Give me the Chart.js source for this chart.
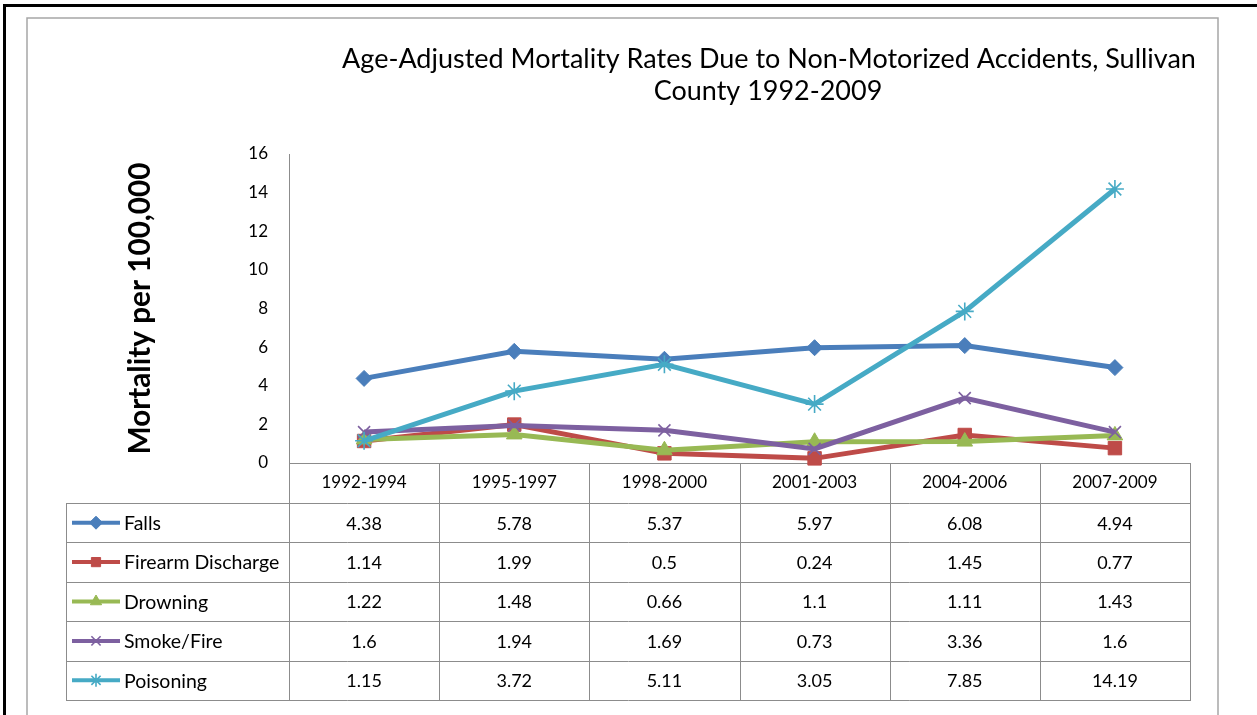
<!DOCTYPE html>
<html>
<head>
<meta charset="utf-8">
<script src="https://cdn.jsdelivr.net/npm/chart.js@4/dist/chart.umd.min.js"></script>
<style>
html,body{margin:0;padding:0;background:#fff;}
#wrap{position:relative;width:1257px;height:715px;}
canvas{display:block;}
</style>
</head>
<body>
<div id="wrap"><canvas id="c" width="1257" height="715"></canvas></div>
<script>
// ---- data ----
const categories = ['1992-1994','1995-1997','1998-2000','2001-2003','2004-2006','2007-2009'];
const seriesNames = ['Falls','Firearm Discharge','Drowning','Smoke/Fire','Poisoning'];
const falls     = [4.38, 5.78, 5.37, 5.97, 6.08, 4.94];
const firearm   = [1.14, 1.99, 0.5, 0.24, 1.45, 0.77];
const drowning  = [1.22, 1.48, 0.66, 1.1, 1.11, 1.43];
const smokeFire = [1.6, 1.94, 1.69, 0.73, 3.36, 1.6];
const poisoning = [1.15, 3.72, 5.11, 3.05, 7.85, 14.19];
const yTicks = [0, 2, 4, 6, 8, 10, 12, 14, 16];
const titleLines = ['Age-Adjusted Mortality Rates Due to Non-Motorized Accidents, Sullivan', 'County 1992-2009'];
const yTitle = 'Mortality per 100,000';

// ---- styles ----
const seriesValues = [falls, firearm, drowning, smokeFire, poisoning];
const colors = ['#4A7EBB', '#BE4B48', '#98B954', '#7D60A0', '#46AAC5'];
const markers = ['rectRot', 'rect', 'triangle', 'crossRot', 'star'];
const markerRadius = [8, 9.5, 9, 8.5, 9];
const markerBorder = [1, 1, 1, 1.6, 1.6];
const FONT = 'Lato, "Open Sans", "DejaVu Sans", sans-serif';
const GRID = '#8c8c8c';

function fitSize(text, target, weight) {
  const c = document.createElement('canvas').getContext('2d');
  c.font = weight + ' 100px ' + FONT;
  return 100 * target / c.measureText(text).width;
}
const titleSize = fitSize(titleLines[0], 854, 'normal');
const yTitleSize = fitSize(yTitle, 292, 'bold');
const yTitleCenterX = 141;
const padLeft = Math.round(yTitleCenterX - yTitleSize * 1.2 / 2);
const axisLeft = 289, axisRight = 1190, axisTop = 154, axisBottom = 463;
const headerH = 40, rowH = 39.4, tableLeft = 66;

const datasets = seriesNames.map((name, i) => ({
  label: name,
  data: seriesValues[i],
  borderColor: colors[i],
  backgroundColor: colors[i],
  borderWidth: 5,
  pointStyle: markers[i],
  pointRadius: markerRadius[i],
  pointBorderWidth: markerBorder[i],
  pointBackgroundColor: colors[i],
  pointBorderColor: colors[i],
  tension: 0,
  fill: false,
  clip: false,
  order: seriesNames.length - 1 - i
}));

const decor = {
  id: 'decor',
  beforeDraw(chart) {
    const ctx = chart.ctx;
    ctx.save();
    ctx.fillStyle = '#fff';
    ctx.fillRect(0, 0, chart.width, chart.height);
    // outer black frame
    ctx.fillStyle = '#000';
    ctx.fillRect(3, 4, 1254, 3);
    ctx.fillRect(3, 4, 3, 711);
    // inner gray frame
    ctx.strokeStyle = '#a6a6a6';
    ctx.lineWidth = 1.5;
    ctx.beginPath();
    ctx.moveTo(27, 715); ctx.lineTo(27, 18); ctx.lineTo(1218, 18); ctx.lineTo(1218, 715);
    ctx.stroke();
    ctx.restore();
  },
  afterDraw(chart) {
    const ctx = chart.ctx;
    const ca = chart.chartArea;
    const xs = chart.scales.x;
    ctx.save();
    // title
    ctx.fillStyle = '#000';
    ctx.textAlign = 'center';
    ctx.textBaseline = 'alphabetic';
    ctx.font = 'normal ' + titleSize.toFixed(2) + 'px ' + FONT;
    ctx.fillText(titleLines[0], 769, 68);
    ctx.fillText(titleLines[1], 768, 100);

    // data table
    const n = categories.length;
    const colW = (ca.right - ca.left) / n;
    const headBot = ca.bottom + headerH;
    const tableBot = headBot + rowH * seriesNames.length;
    ctx.strokeStyle = GRID;
    ctx.lineWidth = 1;
    ctx.beginPath();
    for (let i = 0; i <= n; i++) {
      const x = Math.round(ca.left + i * colW) + 0.5;
      ctx.moveTo(x, ca.bottom); ctx.lineTo(x, tableBot);
    }
    ctx.moveTo(tableLeft + 0.5, headBot); ctx.lineTo(tableLeft + 0.5, tableBot);
    for (let r = 0; r <= seriesNames.length; r++) {
      const y = Math.round(headBot + r * rowH) + 0.5;
      ctx.moveTo(tableLeft, y); ctx.lineTo(ca.right + 1, y);
    }
    ctx.stroke();

    ctx.textBaseline = 'middle';
    seriesNames.forEach((name, s) => {
      const yc = headBot + rowH * (s + 0.5);
      // legend key
      ctx.strokeStyle = colors[s];
      ctx.lineWidth = 4;
      ctx.beginPath();
      ctx.moveTo(72, yc); ctx.lineTo(120, yc);
      ctx.stroke();
      ctx.fillStyle = colors[s];
      ctx.strokeStyle = colors[s];
      ctx.lineWidth = markerBorder[s];
      if (Chart.helpers && Chart.helpers.drawPoint) {
        Chart.helpers.drawPoint(ctx, {pointStyle: markers[s], radius: 6.5, rotation: 0, borderWidth: markerBorder[s]}, 96, yc);
      }
      ctx.fillStyle = '#000';
      ctx.textAlign = 'left';
      ctx.font = '19.5px ' + FONT;
      ctx.fillText(name, 124, yc + 1);
      // values
      ctx.textAlign = 'center';
      ctx.font = '18px ' + FONT;
      seriesValues[s].forEach((v, i) => {
        ctx.fillText(String(v), xs.getPixelForValue(i), yc + 1);
      });
    });
    ctx.restore();
  }
};

new Chart(document.getElementById('c'), {
  type: 'line',
  data: { labels: categories, datasets },
  options: {
    responsive: false,
    animation: false,
    events: [],
    layout: { padding: { left: padLeft, right: 1257 - axisRight, top: axisTop, bottom: 715 - axisBottom - headerH } },
    scales: {
      x: {
        type: 'category',
        offset: true,
        grid: { display: false, drawTicks: false },
        border: { display: true, color: GRID, width: 1 },
        ticks: { color: '#000', font: { family: FONT, size: 17 }, padding: 9, maxRotation: 0, autoSkip: false },
        afterFit: s => { s.height = headerH; }
      },
      y: {
        min: yTicks[0],
        max: yTicks[yTicks.length - 1],
        afterBuildTicks: s => { s.ticks = yTicks.map(v => ({ value: v })); },
        grid: { display: false, drawTicks: false },
        border: { display: true, color: GRID, width: 1 },
        ticks: { color: '#000', font: { family: FONT, size: 17 }, padding: 21 },
        title: { display: true, text: yTitle, color: '#000', padding: 0, font: { family: FONT, size: yTitleSize, weight: 'bold' } },
        afterFit: s => { s.width = axisLeft - padLeft; }
      }
    },
    plugins: { legend: { display: false }, title: { display: false }, tooltip: { enabled: false } }
  },
  plugins: [decor]
});
</script>
</body>
</html>
